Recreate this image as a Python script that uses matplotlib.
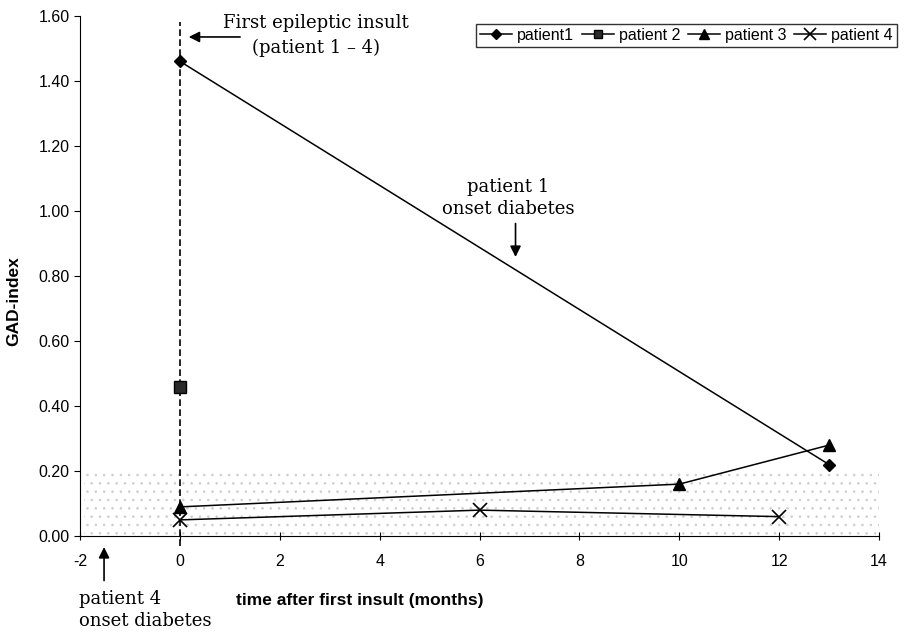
import numpy as np
import matplotlib.pyplot as plt
from matplotlib.ticker import FormatStrFormatter

plt.rcParams['font.family'] = 'Liberation Sans'
plt.rcParams['axes.unicode_minus'] = False
plt.rcParams['hatch.linewidth'] = 0.6

# GAD-index per patient (months after first insult)
p1_t = [0, 13]
p1_gad = [1.46, 0.22]
p2_t = [0]
p2_gad = [0.46]
p3_t = [0, 10, 13]
p3_gad = [0.09, 0.16, 0.28]
p4_t = [0, 6, 12]
p4_gad = [0.05, 0.08, 0.06]

normal_range = (0.0, 0.20)
serif = 'DejaVu Serif'

fig = plt.figure(figsize=(9.1, 6.33), dpi=100)
ax = fig.add_axes([0.088, 0.153, 0.878, 0.822])

# stippled normal range
ax.axhspan(normal_range[0], normal_range[1], xmin=0.005, facecolor='white',
           hatch='..', edgecolor='#cdcdcd', lw=0, zorder=0)

# first insult line
ax.plot([0, 0], [-0.03, 1.58], color='black', ls=(0, (4, 2)), lw=1.2,
        clip_on=False, zorder=1)

ax.plot(p1_t, p1_gad, color='black', lw=1.1, marker='D', ms=6.5, label='patient1', zorder=3)
ax.plot(p2_t, p2_gad, color='black', lw=1.1, marker='s', ms=8, mfc='#2a2a2a',
        label='patient 2', zorder=3)
ax.plot(p3_t, p3_gad, color='black', lw=1.1, marker='^', ms=9, label='patient 3', zorder=3)
ax.plot(p4_t, p4_gad, color='black', lw=1.1, marker='x', ms=10, mew=1.2,
        label='patient 4', zorder=3)

ax.set_xlim(-2, 14)
ax.set_ylim(0, 1.6)
ax.set_xticks(np.arange(-2, 15, 2))
ax.set_yticks(np.arange(0, 1.61, 0.2))
ax.yaxis.set_major_formatter(FormatStrFormatter('%.2f'))
ax.spines['top'].set_visible(False)
ax.spines['right'].set_visible(False)
ax.tick_params(axis='x', direction='inout', length=6, pad=10, labelsize=11.5)
ax.tick_params(axis='y', direction='out', length=4, labelsize=11.5)

ax.set_ylabel('GAD-index', fontweight='bold', fontsize=12.5)
ax.set_xlabel('time after first insult (months)', fontweight='bold', fontsize=12.5)
ax.xaxis.set_label_coords(0.35, -0.11)
ax.yaxis.set_label_coords(-0.074, 0.452)

ax.legend(loc='upper right', bbox_to_anchor=(1.022, 0.985), ncol=4, frameon=True,
          fancybox=False, edgecolor='black', fontsize=11.5, handlelength=2.0,
          markerscale=0.8, handletextpad=0.3, columnspacing=0.5,
          borderpad=0.25, borderaxespad=0)

arrow = dict(arrowstyle='-|>', color='black', lw=1.2, mutation_scale=16)
ax.annotate('', xy=(0.12, 1.535), xytext=(1.26, 1.535), arrowprops=arrow, annotation_clip=False)
ax.text(2.72, 1.54, 'First epileptic insult\n(patient 1 \u2013 4)', family=serif,
        fontsize=13, ha='center', va='center', linespacing=1.45)

ax.annotate('', xy=(6.72, 0.85), xytext=(6.72, 0.97), arrowprops=arrow)
ax.text(6.58, 1.04, 'patient 1\nonset diabetes', family=serif, fontsize=13,
        ha='center', va='center', linespacing=1.3)

ax.annotate('', xy=(-1.52, -0.025), xytext=(-1.52, -0.145), arrowprops=arrow,
            annotation_clip=False)
ax.text(-2.02, -0.228, 'patient 4\nonset diabetes', family=serif, fontsize=13,
        ha='left', va='center', linespacing=1.3)

plt.savefig('out.png', dpi=100)
